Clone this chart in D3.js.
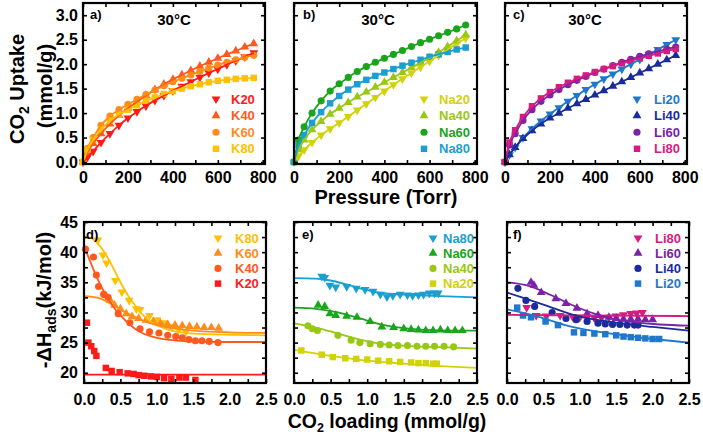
<!DOCTYPE html>
<html>
<head>
<meta charset="utf-8">
<script src="https://cdn.jsdelivr.net/npm/d3@7"></script>
<style>
  body { margin: 0; background: #fff; }
  svg { display: block; }
  text { font-family: "Liberation Sans", Arial, sans-serif; font-weight: bold; }
</style>
</head>
<body>
<svg id="chart" width="703" height="437"></svg>
<script>
// small helper so .attrs({...}) works without d3-selection-multi
d3.selection.prototype.attrs = function (obj) {
  for (const k in obj) this.attr(k, obj[k]);
  return this;
};

// ---- isotherm data (Torr, mmol/g) ----
const pressure = [0, 20, 45, 80, 120, 160, 200, 240, 280, 320, 360, 400, 440, 480, 520, 560, 600, 640, 680, 720, 760];

const upK20 = [0, 0.1, 0.22, 0.4, 0.58, 0.75, 0.9, 1.03, 1.15, 1.26, 1.36, 1.46, 1.55, 1.64, 1.73, 1.82, 1.9, 1.99, 2.07, 2.15, 2.23];
const upK40 = [0, 0.2, 0.38, 0.58, 0.78, 0.95, 1.1, 1.23, 1.36, 1.48, 1.59, 1.69, 1.78, 1.87, 1.96, 2.04, 2.12, 2.2, 2.27, 2.35, 2.42];
const upK60 = [0, 0.28, 0.5, 0.75, 0.94, 1.07, 1.18, 1.28, 1.38, 1.47, 1.56, 1.64, 1.71, 1.78, 1.85, 1.92, 1.98, 2.04, 2.09, 2.14, 2.18];
const upK80 = [0, 0.25, 0.45, 0.66, 0.84, 0.97, 1.07, 1.16, 1.25, 1.32, 1.39, 1.45, 1.5, 1.55, 1.59, 1.63, 1.66, 1.68, 1.7, 1.71, 1.72];

const upNa20 = [0, 0.12, 0.25, 0.4, 0.55, 0.68, 0.8, 0.93, 1.06, 1.19, 1.32, 1.45, 1.58, 1.7, 1.82, 1.94, 2.06, 2.18, 2.3, 2.42, 2.53];
const upNa40 = [0, 0.25, 0.45, 0.66, 0.83, 0.98, 1.1, 1.22, 1.33, 1.43, 1.53, 1.63, 1.73, 1.83, 1.93, 2.03, 2.13, 2.24, 2.36, 2.48, 2.6];
const upNa60 = [0, 0.45, 0.72, 1.0, 1.25, 1.45, 1.6, 1.73, 1.85, 1.95, 2.04, 2.12, 2.2, 2.28, 2.36, 2.44, 2.51, 2.58, 2.65, 2.72, 2.8];
const upNa80 = [0, 0.35, 0.55, 0.8, 1.02, 1.2, 1.35, 1.48, 1.59, 1.68, 1.76, 1.83, 1.9, 1.97, 2.03, 2.09, 2.15, 2.2, 2.25, 2.3, 2.34];

const upLi20 = [0, 0.15, 0.3, 0.5, 0.68, 0.84, 0.98, 1.11, 1.24, 1.36, 1.48, 1.59, 1.7, 1.8, 1.9, 2.0, 2.1, 2.2, 2.3, 2.4, 2.5];
const upLi40 = [0, 0.15, 0.3, 0.48, 0.64, 0.78, 0.9, 1.0, 1.1, 1.19, 1.28, 1.37, 1.46, 1.55, 1.64, 1.73, 1.82, 1.91, 2.0, 2.09, 2.18];
const upLi60 = [0, 0.35, 0.58, 0.85, 1.07, 1.24, 1.37, 1.48, 1.58, 1.67, 1.75, 1.83, 1.9, 1.97, 2.04, 2.1, 2.16, 2.21, 2.26, 2.31, 2.35];
const upLi80 = [0, 0.4, 0.65, 0.92, 1.14, 1.3, 1.43, 1.53, 1.62, 1.7, 1.77, 1.84, 1.9, 1.96, 2.02, 2.07, 2.12, 2.17, 2.22, 2.27, 2.31];

// ---- heat of adsorption: measured points [loading, -dH] ----
const dhK80 = [[0.19, 42], [0.26, 39.5], [0.31, 38.2], [0.43, 35.3], [0.52, 33.4], [0.62, 32], [0.72, 30.6], [0.77, 30.5], [0.9, 29.5], [1.0, 28.8], [1.1, 28.3], [1.2, 27.6], [1.3, 27.2], [1.4, 26.8]];
const dhK60 = [[0.3, 32.8], [0.36, 32], [0.42, 31.2], [0.5, 30.6], [0.58, 29.8], [0.66, 29.3], [0.75, 29], [0.85, 28.7], [0.95, 28.5], [1.05, 28.2], [1.15, 28], [1.25, 27.9], [1.35, 27.8], [1.45, 27.7], [1.55, 27.6], [1.65, 27.5], [1.75, 27.5], [1.85, 27.4]];
const dhK40 = [[0.02, 40.5], [0.13, 39.2], [0.17, 36.2], [0.2, 34.3], [0.27, 33], [0.33, 32.5], [0.47, 29.8], [0.63, 28.3], [0.77, 27.3], [0.9, 26.8], [1.03, 26.6], [1.15, 26.2], [1.26, 26], [1.35, 25.8], [1.44, 25.5], [1.53, 25.3], [1.62, 25.3], [1.72, 25.2], [1.84, 25]];
const dhK20 = [[0.04, 28.3], [0.06, 25], [0.1, 24.4], [0.14, 23.6], [0.17, 22.8], [0.3, 20.8], [0.38, 20.3], [0.49, 20.1], [0.6, 19.9], [0.68, 19.8], [0.75, 19.6], [0.83, 19.5], [0.92, 19.4], [1.0, 19.3], [1.1, 19.1], [1.2, 19.0], [1.31, 19.2], [1.4, 19.2], [1.53, 18.8]];

const dhNa80 = [[0.38, 36], [0.42, 35.8], [0.49, 34.5], [0.57, 34.2], [0.72, 34.3], [0.85, 34], [0.97, 33.8], [1.08, 33.5], [1.18, 33], [1.27, 32.6], [1.35, 32.8], [1.45, 33], [1.55, 32.9], [1.62, 32.8], [1.7, 32.9], [1.77, 33], [1.85, 33.2], [1.92, 33.2], [1.97, 33.2]];
const dhNa60 = [[0.33, 31.2], [0.42, 31], [0.49, 29.8], [0.57, 29.5], [0.72, 29.4], [0.86, 29.2], [1.04, 28.5], [1.2, 27.6], [1.36, 27.5], [1.5, 27.3], [1.6, 27.2], [1.7, 27.1], [1.8, 27], [1.9, 27], [2.0, 27.1], [2.1, 27], [2.2, 27], [2.3, 27]];
const dhNa40 = [[0.19, 27.8], [0.25, 27.3], [0.32, 27], [0.6, 26.2], [0.78, 25.4], [0.9, 25], [1.04, 24.8], [1.18, 24.7], [1.3, 24.6], [1.42, 24.5], [1.55, 24.5], [1.68, 24.4], [1.8, 24.4], [1.92, 24.4], [2.05, 24.4], [2.18, 24.3]];
const dhNa20 = [[0.1, 23.7], [0.38, 23], [0.53, 22.6], [0.7, 22.4], [0.85, 22.3], [1.0, 22.2], [1.15, 22], [1.3, 21.9], [1.45, 21.8], [1.6, 21.7], [1.7, 21.6], [1.8, 21.6], [1.9, 21.5], [1.95, 21.5]];

const dhLi80 = [[0.27, 30.8], [0.4, 29.5], [0.54, 29.4], [0.73, 29.5], [0.9, 29.3], [1.0, 29.2], [1.1, 29.2], [1.2, 29.1], [1.3, 29.1], [1.4, 29.2], [1.5, 29.4], [1.6, 29.6], [1.7, 29.8], [1.78, 29.9], [1.86, 30]];
const dhLi60 = [[0.33, 35], [0.37, 34.5], [0.47, 33.3], [0.67, 32.3], [0.81, 31.5], [0.96, 30.7], [1.1, 29.8], [1.25, 29.5], [1.4, 29.2], [1.5, 29], [1.6, 28.9], [1.7, 28.9], [1.8, 28.9], [1.9, 28.8], [2.0, 28.8]];
const dhLi40 = [[0.15, 34], [0.26, 32], [0.38, 31], [0.62, 30], [0.81, 29], [0.95, 28.8], [1.1, 28.5], [1.25, 28.2], [1.35, 28.1], [1.45, 28], [1.55, 28], [1.65, 27.9], [1.75, 27.9], [1.8, 27.9]];
const dhLi20 = [[0.14, 30.8], [0.22, 29.5], [0.33, 29.2], [0.53, 28.5], [0.7, 27.9], [0.92, 26.7], [1.05, 26.6], [1.2, 26.5], [1.35, 26.4], [1.5, 26.2], [1.6, 26], [1.7, 25.9], [1.8, 25.8], [1.9, 25.7], [2.0, 25.6], [2.09, 25.6]];

// ---- fitted curves [loading, -dH] ----
const fitK80 = [[0, 42.6], [0.1, 42.3], [0.2, 41.3], [0.3, 39.6], [0.4, 37.4], [0.5, 35], [0.6, 32.9], [0.7, 31.2], [0.8, 29.7], [0.9, 28.6], [1.0, 27.9], [1.2, 27.0], [1.5, 26.5], [2.0, 26.3], [2.5, 26.2]];
const fitK60 = [[0, 32.7], [0.2, 32.4], [0.4, 31.2], [0.6, 29.8], [0.8, 28.7], [1.0, 27.9], [1.2, 27.4], [1.5, 27], [2.0, 26.7], [2.5, 26.6]];
const fitK40 = [[0, 41], [0.05, 39.5], [0.1, 38], [0.2, 35.2], [0.3, 32.9], [0.4, 31], [0.5, 29.5], [0.6, 28.3], [0.7, 27.3], [0.8, 26.6], [1.0, 25.8], [1.2, 25.4], [1.5, 25.2], [2.0, 25.1], [2.5, 25.1]];
const fitK20 = [[0, 19.7], [2.5, 19.7]];
const fitNa80 = [[0, 35.7], [0.3, 35.6], [0.5, 35.3], [0.7, 34.7], [0.9, 34], [1.1, 33.4], [1.3, 33.1], [1.6, 32.9], [2.0, 32.7], [2.5, 32.5]];
const fitNa60 = [[0, 30.8], [0.3, 30.6], [0.6, 30.0], [0.9, 29.0], [1.2, 28.0], [1.5, 27.4], [1.8, 27.1], [2.1, 27.0], [2.5, 27.0]];
const fitNa40 = [[0, 28.2], [0.3, 27.5], [0.6, 26.5], [0.9, 25.5], [1.2, 24.8], [1.5, 24.5], [1.8, 24.3], [2.1, 24.2], [2.5, 24.0]];
const fitNa20 = [[0, 23.8], [0.5, 22.8], [1.0, 22.0], [1.5, 21.5], [2.0, 21.1], [2.5, 20.8]];
const fitLi80 = [[0, 29.6], [1.0, 29.5], [2.5, 29.4]];
const fitLi60 = [[0, 35], [0.3, 34.4], [0.6, 32.9], [0.9, 31.2], [1.2, 29.8], [1.5, 28.8], [1.8, 28.3], [2.1, 28.0], [2.5, 27.8]];
const fitLi40 = [[0, 33.3], [0.5, 31.3], [1.0, 29.3], [1.5, 28.3], [2.0, 27.6], [2.5, 27.0]];
const fitLi20 = [[0, 30.5], [0.4, 29.4], [0.8, 27.9], [1.2, 26.9], [1.6, 26.2], [2.0, 25.6], [2.5, 25.0]];

const colors = {
  K20: '#ff1a1a', K40: '#ff5a1e', K60: '#ff8c1a', K80: '#ffc000',
  Na20: '#d2d20a', Na40: '#99c814', Na60: '#1aa51a', Na80: '#1a9fd0',
  Li20: '#1f78cc', Li40: '#1a2c9c', Li60: '#7b22a6', Li80: '#d81b80'
};

const svg = d3.select('#chart');

main();

function main () {
  const topY = [3, 164];
  const botY = [222, 383];

  const topPanels = [
    { x: [83, 265], tag: 'a)', tagDx: 7, tempX: 91, leg: [49, 34], yLabels: true,
      series: [['K20', upK20, 'down'], ['K40', upK40, 'up'], ['K60', upK60, 'circle'], ['K80', upK80, 'square']] },
    { x: [294, 477], tag: 'b)', tagDx: 9, tempX: 84, leg: [53, 38], yLabels: false,
      series: [['Na20', upNa20, 'down'], ['Na40', upNa40, 'up'], ['Na60', upNa60, 'circle'], ['Na80', upNa80, 'square']] },
    { x: [505, 687], tag: 'c)', tagDx: 8, tempX: 80, leg: [50, 33], yLabels: false,
      series: [['Li20', upLi20, 'down'], ['Li40', upLi40, 'up'], ['Li60', upLi60, 'circle'], ['Li80', upLi80, 'square']] }
  ];

  const botPanels = [
    { x: [84, 266], tag: 'd)', tagDx: 2, leg: [48, 31], yLabels: true,
      series: [['K80', dhK80, fitK80, 'down'], ['K60', dhK60, fitK60, 'up'], ['K40', dhK40, fitK40, 'circle'], ['K20', dhK20, fitK20, 'square']] },
    { x: [294, 477], tag: 'e)', tagDx: 8, leg: [44, 34], yLabels: false,
      series: [['Na80', dhNa80, fitNa80, 'down'], ['Na60', dhNa60, fitNa60, 'up'], ['Na40', dhNa40, fitNa40, 'circle'], ['Na20', dhNa20, fitNa20, 'square']] },
    { x: [507, 689], tag: 'f)', tagDx: 6, leg: [51, 34], yLabels: false,
      series: [['Li80', dhLi80, fitLi80, 'down'], ['Li60', dhLi60, fitLi60, 'up'], ['Li40', dhLi40, fitLi40, 'circle'], ['Li20', dhLi20, fitLi20, 'square']] }
  ];

  for (const p of topPanels) {
    const x = d3.scaleLinear().domain([0, 810]).range(p.x);
    const y = d3.scaleLinear().domain([-0.04, 3.25]).range([topY[1], topY[0]]);
    const g = svg.append('g');
    for (const [name, vals, shape] of p.series) {
      const pts = pressure.map((d, i) => [d, vals[i]]);
      drawMarkers(g, pts, x, y, shape, colors[name]);
    }
    for (const [name, vals] of p.series) {
      const pts = pressure.map((d, i) => [d, vals[i]]);
      drawLine(g, pts, x, y, colors[name]);
    }
    drawFrame(g, x, y, {
      xTicks: d3.range(0, 801, 100), xLabel: d => d % 200 === 0 ? d : '',
      yTicks: d3.range(0, 3.01, 0.5), yLabel: p.yLabels ? d3.format('.1f') : null,
      xPad: 8, yPad: 5
    });
    g.append('text').text(p.tag).attrs({ x: p.x[0] + p.tagDx, y: 19, 'font-size': 13 });
    g.append('text').text('30°C').attrs({ x: p.x[0] + p.tempX, y: 25, 'font-size': 15, 'text-anchor': 'middle' });
    drawLegend(g, p.series.map(s => [s[0], s[2]]), p.x[1] - p.leg[0], p.x[1] - p.leg[1], 99, 16.6);
  }

  for (const p of botPanels) {
    const x = d3.scaleLinear().domain([0, 2.5]).range(p.x);
    const y = d3.scaleLinear().domain([18.3, 45]).range([botY[1], botY[0]]);
    const g = svg.append('g');
    for (const [name, pts, fit, shape] of p.series) {
      drawMarkers(g, pts, x, y, shape, colors[name]);
    }
    for (const [name, pts, fit] of p.series) {
      drawLine(g, fit, x, y, colors[name]);
    }
    drawFrame(g, x, y, {
      xTicks: d3.range(0, 2.51, 0.25), xLabel: d => Math.abs(d * 2 - Math.round(d * 2)) < 1e-6 ? d3.format('.1f')(d) : '',
      yTicks: d3.range(20, 45.1, 2.5), yLabel: p.yLabels ? (d => d % 5 === 0 ? d : '') : null,
      xPad: 11, yPad: 6
    });
    g.append('text').text(p.tag).attrs({ x: p.x[0] + p.tagDx, y: 239, 'font-size': 13 });
    drawLegend(g, p.series.map(s => [s[0], s[3]]), p.x[1] - p.leg[0], p.x[1] - p.leg[1], 238, 15.2);
  }

  // axis titles
  const t1 = svg.append('text').attrs({ transform: 'translate(24,89) rotate(-90)', 'text-anchor': 'middle', 'font-size': 20 });
  t1.append('tspan').text('CO');
  t1.append('tspan').text('2').attrs({ 'font-size': 14, dy: 5 });
  t1.append('tspan').text(' Uptake').attrs({ dy: -5 });
  svg.append('text').text('(mmol/g)').attrs({ transform: 'translate(52,86) rotate(-90)', 'text-anchor': 'middle', 'font-size': 20 });

  const t2 = svg.append('text').attrs({ transform: 'translate(51,300) rotate(-90)', 'text-anchor': 'middle', 'font-size': 20 });
  t2.append('tspan').text('-ΔH');
  t2.append('tspan').text('ads').attrs({ 'font-size': 14, dy: 5 });
  t2.append('tspan').text('(kJ/mol)').attrs({ dy: -5 });

  svg.append('text').text('Pressure (Torr)').attrs({ x: 386, y: 204, 'text-anchor': 'middle', 'font-size': 20 });

  const t3 = svg.append('text').attrs({ x: 387, y: 428, 'text-anchor': 'middle', 'font-size': 19.5 });
  t3.append('tspan').text('CO');
  t3.append('tspan').text('2').attrs({ 'font-size': 12.5, dy: 4 });
  t3.append('tspan').text(' loading (mmol/g)').attrs({ dy: -4 });
}

function symbolPath (shape) {
  if (shape === 'circle') return d3.symbol(d3.symbolCircle, 40)();
  if (shape === 'square') return d3.symbol(d3.symbolSquare, 42)();
  return d3.symbol(d3.symbolTriangle, 34)();
}

function drawMarkers (g, pts, x, y, shape, color) {
  const path = symbolPath(shape);
  g.append('g').selectAll('path').data(pts).join('path')
    .attr('d', path)
    .attr('fill', color)
    .attr('transform', d => `translate(${x(d[0])},${y(d[1])})` + (shape === 'down' ? ' rotate(180)' : ''));
}

function drawLine (g, pts, x, y, color) {
  const line = d3.line().x(d => x(d[0])).y(d => y(d[1])).curve(d3.curveMonotoneX);
  g.append('path').attr('d', line(pts)).attr('fill', 'none').attr('stroke', color).attr('stroke-width', 1.8);
}

function drawFrame (g, x, y, o) {
  const [x0, x1] = x.range();
  const [y1, y0] = y.range();
  g.append('g').attr('transform', `translate(0,${y1})`)
    .call(d3.axisBottom(x).tickValues(o.xTicks).tickSizeInner(-4).tickSizeOuter(0).tickPadding(o.xPad).tickFormat(o.xLabel))
    .call(styleAxis);
  g.append('g').attr('transform', `translate(0,${y0})`)
    .call(d3.axisTop(x).tickValues(o.xTicks).tickSizeInner(-4).tickSizeOuter(0).tickFormat(''))
    .call(styleAxis);
  g.append('g').attr('transform', `translate(${x0},0)`)
    .call(d3.axisLeft(y).tickValues(o.yTicks).tickSizeInner(-4).tickSizeOuter(0).tickPadding(o.yPad).tickFormat(o.yLabel || (() => '')))
    .call(styleAxis);
  g.append('g').attr('transform', `translate(${x1},0)`)
    .call(d3.axisRight(y).tickValues(o.yTicks).tickSizeInner(-4).tickSizeOuter(0).tickFormat(''))
    .call(styleAxis);
  g.append('rect').attrs({ x: x0, y: y0, width: x1 - x0, height: y1 - y0, fill: 'none', stroke: '#000', 'stroke-width': 2.2 });
}

function styleAxis (sel) {
  sel.select('.domain').remove();
  sel.selectAll('.tick line').attr('stroke', '#000').attr('stroke-width', 1.6);
  sel.selectAll('.tick text').attr('fill', '#000').attr('font-size', 16)
    .attr('font-family', '"Liberation Sans", Arial, sans-serif').attr('font-weight', 'bold');
}

function drawLegend (g, items, mx, tx, y0, step) {
  items.forEach(([name, shape], i) => {
    const yy = y0 + i * step;
    g.append('path').attr('d', symbolPath(shape)).attr('fill', colors[name])
      .attr('transform', `translate(${mx},${yy})` + (shape === 'down' ? ' rotate(180)' : ''));
    g.append('text').text(name).attrs({ x: tx, y: yy + 4.5, 'font-size': 13, fill: colors[name] });
  });
}
</script>
</body>
</html>
